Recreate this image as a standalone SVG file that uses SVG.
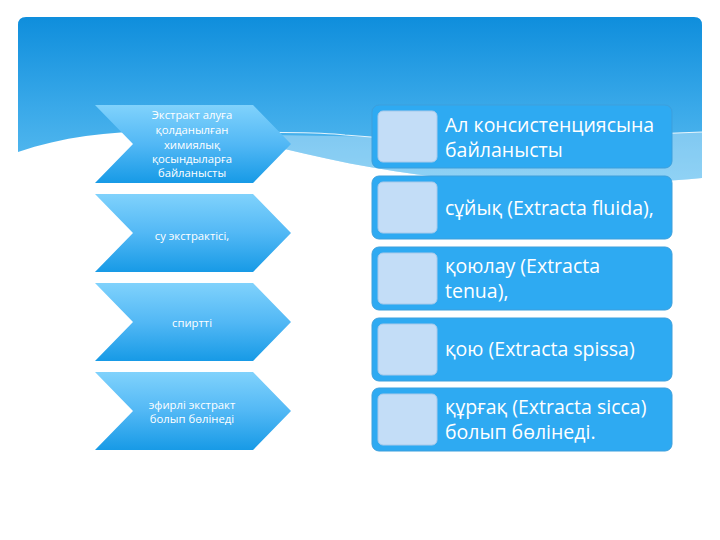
<svg xmlns="http://www.w3.org/2000/svg" width="720" height="540" viewBox="0 0 720 540">
  <defs>
    <linearGradient id="bg" x1="0" y1="0" x2="0" y2="1" gradientUnits="objectBoundingBox">
      <stop offset="0" stop-color="#0f8edc"/>
      <stop offset="0.55" stop-color="#3aa9e9"/>
      <stop offset="1" stop-color="#5cbdf0"/>
    </linearGradient>
    <linearGradient id="chev" x1="0" y1="0" x2="0" y2="1">
      <stop offset="0" stop-color="#80d2fc"/>
      <stop offset="0.5" stop-color="#52b8f5"/>
      <stop offset="1" stop-color="#179ae6"/>
    </linearGradient>
    <style>
      .chev { fill: url(#chev); }
      .ctext { font-family: "Open Sans", "Noto Sans", sans-serif; font-size: 11.3px; fill: #ffffff; text-anchor: middle; }
      .box { fill: #2eaaf2; stroke: #3c9fdc; stroke-width: 1; }
      .sq { fill: #c3ddf7; stroke: #a8c9ea; stroke-width: 1; }
      .btext { font-family: "Open Sans", "Noto Sans", sans-serif; font-size: 19.5px; fill: #ffffff; }
    </style>
  </defs>

  <g id="background">
    <rect x="0" y="0" width="720" height="540" fill="#ffffff"/>
    <path d="M18,25 Q18,17 26,17 H694 Q702,17 702,25 V178 C620,186 520,183 440,177 C380,171 320,158 260,143 C200,128 100,124 18,152 Z" fill="url(#bg)"/>
    <path d="M230,135 C350,134 450,142 560,138 C620,136 670,133 702,132 V178 C620,186 520,183 440,177 C380,171 320,158 260,143 C250,140 240,138 230,135 Z" fill="#ffffff" opacity="0.32"/>
    <path d="M240,132 C300,133 320,132 345,135 C420,142 520,140 600,136 C650,134 680,133 702,132" fill="none" stroke="#ffffff" stroke-width="1.2" opacity="0.85"/>
  </g>

  <g id="chevron1">
    <path class="chev" d="M95,105 L253,105 L291,144 L253,183 L95,183 L133,144 Z"/>
    <text class="ctext" x="192" y="119">Экстракт алуға</text>
    <text class="ctext" x="192" y="134">қолданылған</text>
    <text class="ctext" x="192" y="149">химиялық</text>
    <text class="ctext" x="192" y="163">қосындыларға</text>
    <text class="ctext" x="192" y="177">байланысты</text>
  </g>
  <g id="chevron2">
    <path class="chev" d="M95,194 L253,194 L291,233 L253,272 L95,272 L133,233 Z"/>
    <text class="ctext" x="192" y="240">су экстрактісі,</text>
  </g>
  <g id="chevron3">
    <path class="chev" d="M95,283 L253,283 L291,322 L253,361 L95,361 L133,322 Z"/>
    <text class="ctext" x="192" y="327">спиртті</text>
  </g>
  <g id="chevron4">
    <path class="chev" d="M95,372 L253,372 L291,411 L253,450 L95,450 L133,411 Z"/>
    <text class="ctext" x="192" y="409">эфирлі экстракт</text>
    <text class="ctext" x="192" y="423">болып бөлінеді</text>
  </g>

  <g id="box1">
    <rect class="box" x="372" y="105" width="300" height="63" rx="7"/>
    <rect class="sq" x="378" y="111" width="59" height="51" rx="5"/>
    <text class="btext" x="445" y="132">Ал консистенциясына</text>
    <text class="btext" x="445" y="157">байланысты</text>
  </g>
  <g id="box2">
    <rect class="box" x="372" y="176" width="300" height="63" rx="7"/>
    <rect class="sq" x="378" y="182" width="59" height="51" rx="5"/>
    <text class="btext" x="445" y="215">сұйық (Extracta fluida),</text>
  </g>
  <g id="box3">
    <rect class="box" x="372" y="247" width="300" height="63" rx="7"/>
    <rect class="sq" x="378" y="253" width="59" height="51" rx="5"/>
    <text class="btext" x="445" y="273">қоюлау (Extracta</text>
    <text class="btext" x="445" y="298">tenua),</text>
  </g>
  <g id="box4">
    <rect class="box" x="372" y="318" width="300" height="63" rx="7"/>
    <rect class="sq" x="378" y="324" width="59" height="51" rx="5"/>
    <text class="btext" x="445" y="356">қою (Extracta spissa)</text>
  </g>
  <g id="box5">
    <rect class="box" x="372" y="388" width="300" height="63" rx="7"/>
    <rect class="sq" x="378" y="394" width="59" height="51" rx="5"/>
    <text class="btext" x="445" y="414">құрғақ (Extracta sicca)</text>
    <text class="btext" x="445" y="439">болып бөлінеді.</text>
  </g>

  <g id="connectors"></g>
</svg>
